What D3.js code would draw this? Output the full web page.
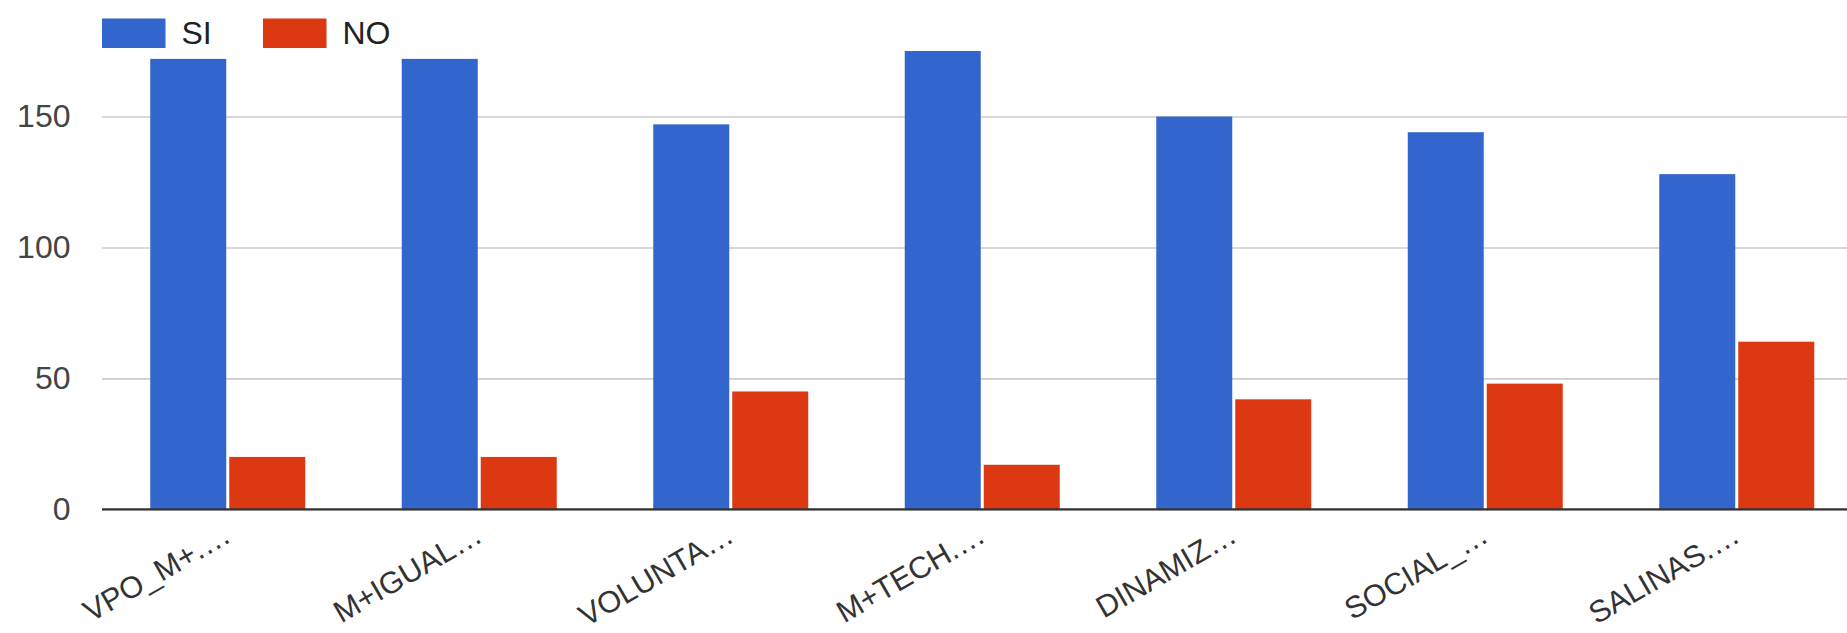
<!DOCTYPE html>
<html>
<head>
<meta charset="utf-8">
<script src="https://cdn.jsdelivr.net/npm/d3@7"></script>
<style>
  html, body { margin: 0; padding: 0; background: #fff; overflow: hidden; }
  svg { display: block; font-family: "Liberation Sans", Arial, sans-serif; }
</style>
</head>
<body>
<svg id="chart" width="1847" height="633"></svg>
<script>
// ---- data ----
const categories = ["VPO_M+.\u2026", "M+IGUAL\u2026", "VOLUNTA\u2026", "M+TECH.\u2026", "DINAMIZ\u2026", "SOCIAL_\u2026", "SALINAS.\u2026"];
const seriesNames = ["SI", "NO"];
const siValues = [172, 172, 147, 175, 150, 144, 128];
const noValues = [20, 20, 45, 17, 42, 48, 64];
const yTicks = [0, 50, 100, 150];
const colors = ["#3366cc", "#dc3912"];

// ---- layout ----
const W = 1847, H = 633;
const left = 102, zeroY = 509.3, topY = 116.5;
const step = 251.5;
const svg = d3.select("#chart");

const x0 = d3.scaleBand().domain(categories)
  .range([left, left + categories.length * step])
  .paddingInner(0.3837).paddingOuter(0.19185);
const x1 = d3.scaleBand().domain(seriesNames)
  .range([0, x0.bandwidth()]).paddingInner(0.038).paddingOuter(0);
const y = d3.scaleLinear().domain([0, 150]).range([zeroY, topY]);

const rows = categories.map((c, i) => ({ cat: c, vals: [siValues[i], noValues[i]] }));

// gridlines + y tick labels
const yAxis = svg.append("g").attr("transform", `translate(${left},0)`)
  .call(d3.axisLeft(y).tickValues(yTicks).tickSize(-(W - left)).tickPadding(31.5).tickFormat(d3.format("d")));
yAxis.select(".domain").remove();
yAxis.selectAll(".tick line").attr("stroke", "#cccccc").attr("stroke-width", 1.6);
yAxis.selectAll(".tick text").attr("fill", "#444").style("font-size", "32px")
  .style("font-family", "'Liberation Sans', Arial, sans-serif");

// bars
const groups = svg.append("g").selectAll("g").data(rows).join("g")
  .attr("transform", d => `translate(${x0(d.cat)},0)`);
groups.selectAll("rect").data(d => d.vals.map((v, k) => ({ key: seriesNames[k], v, k })))
  .join("rect")
  .attr("x", d => x1(d.key))
  .attr("width", x1.bandwidth())
  .attr("y", d => y(d.v))
  .attr("height", d => y(0) - y(d.v))
  .attr("fill", d => colors[d.k]);

// x axis baseline and labels
const xAxis = svg.append("g").attr("transform", `translate(0,${zeroY})`)
  .call(d3.axisBottom(x0).tickSize(0));
xAxis.select(".domain").attr("d", `M${left},0H${W}`).attr("stroke", "#333").attr("stroke-width", 2.2);
xAxis.selectAll(".tick text")
  .attr("x", 0).attr("y", 0).attr("dy", 0)
  .attr("text-anchor", "end")
  .attr("transform", "translate(5,31.5) rotate(-30)")
  .attr("fill", "#333")
  .style("font-size", "30.5px")
  .style("font-family", "'Liberation Sans', Arial, sans-serif");

// legend
const legend = svg.append("g").selectAll("g").data(seriesNames).join("g")
  .attr("transform", (d, i) => `translate(${102 + i * 161},0)`);
legend.append("rect").attr("x", 0).attr("y", 18.5).attr("width", 63.5).attr("height", 29.5)
  .attr("fill", (d, i) => colors[i]);
legend.append("text").attr("x", 79.5).attr("y", 43.5).text(d => d)
  .attr("fill", "#222").style("font-size", "32px");
</script>
</body>
</html>
